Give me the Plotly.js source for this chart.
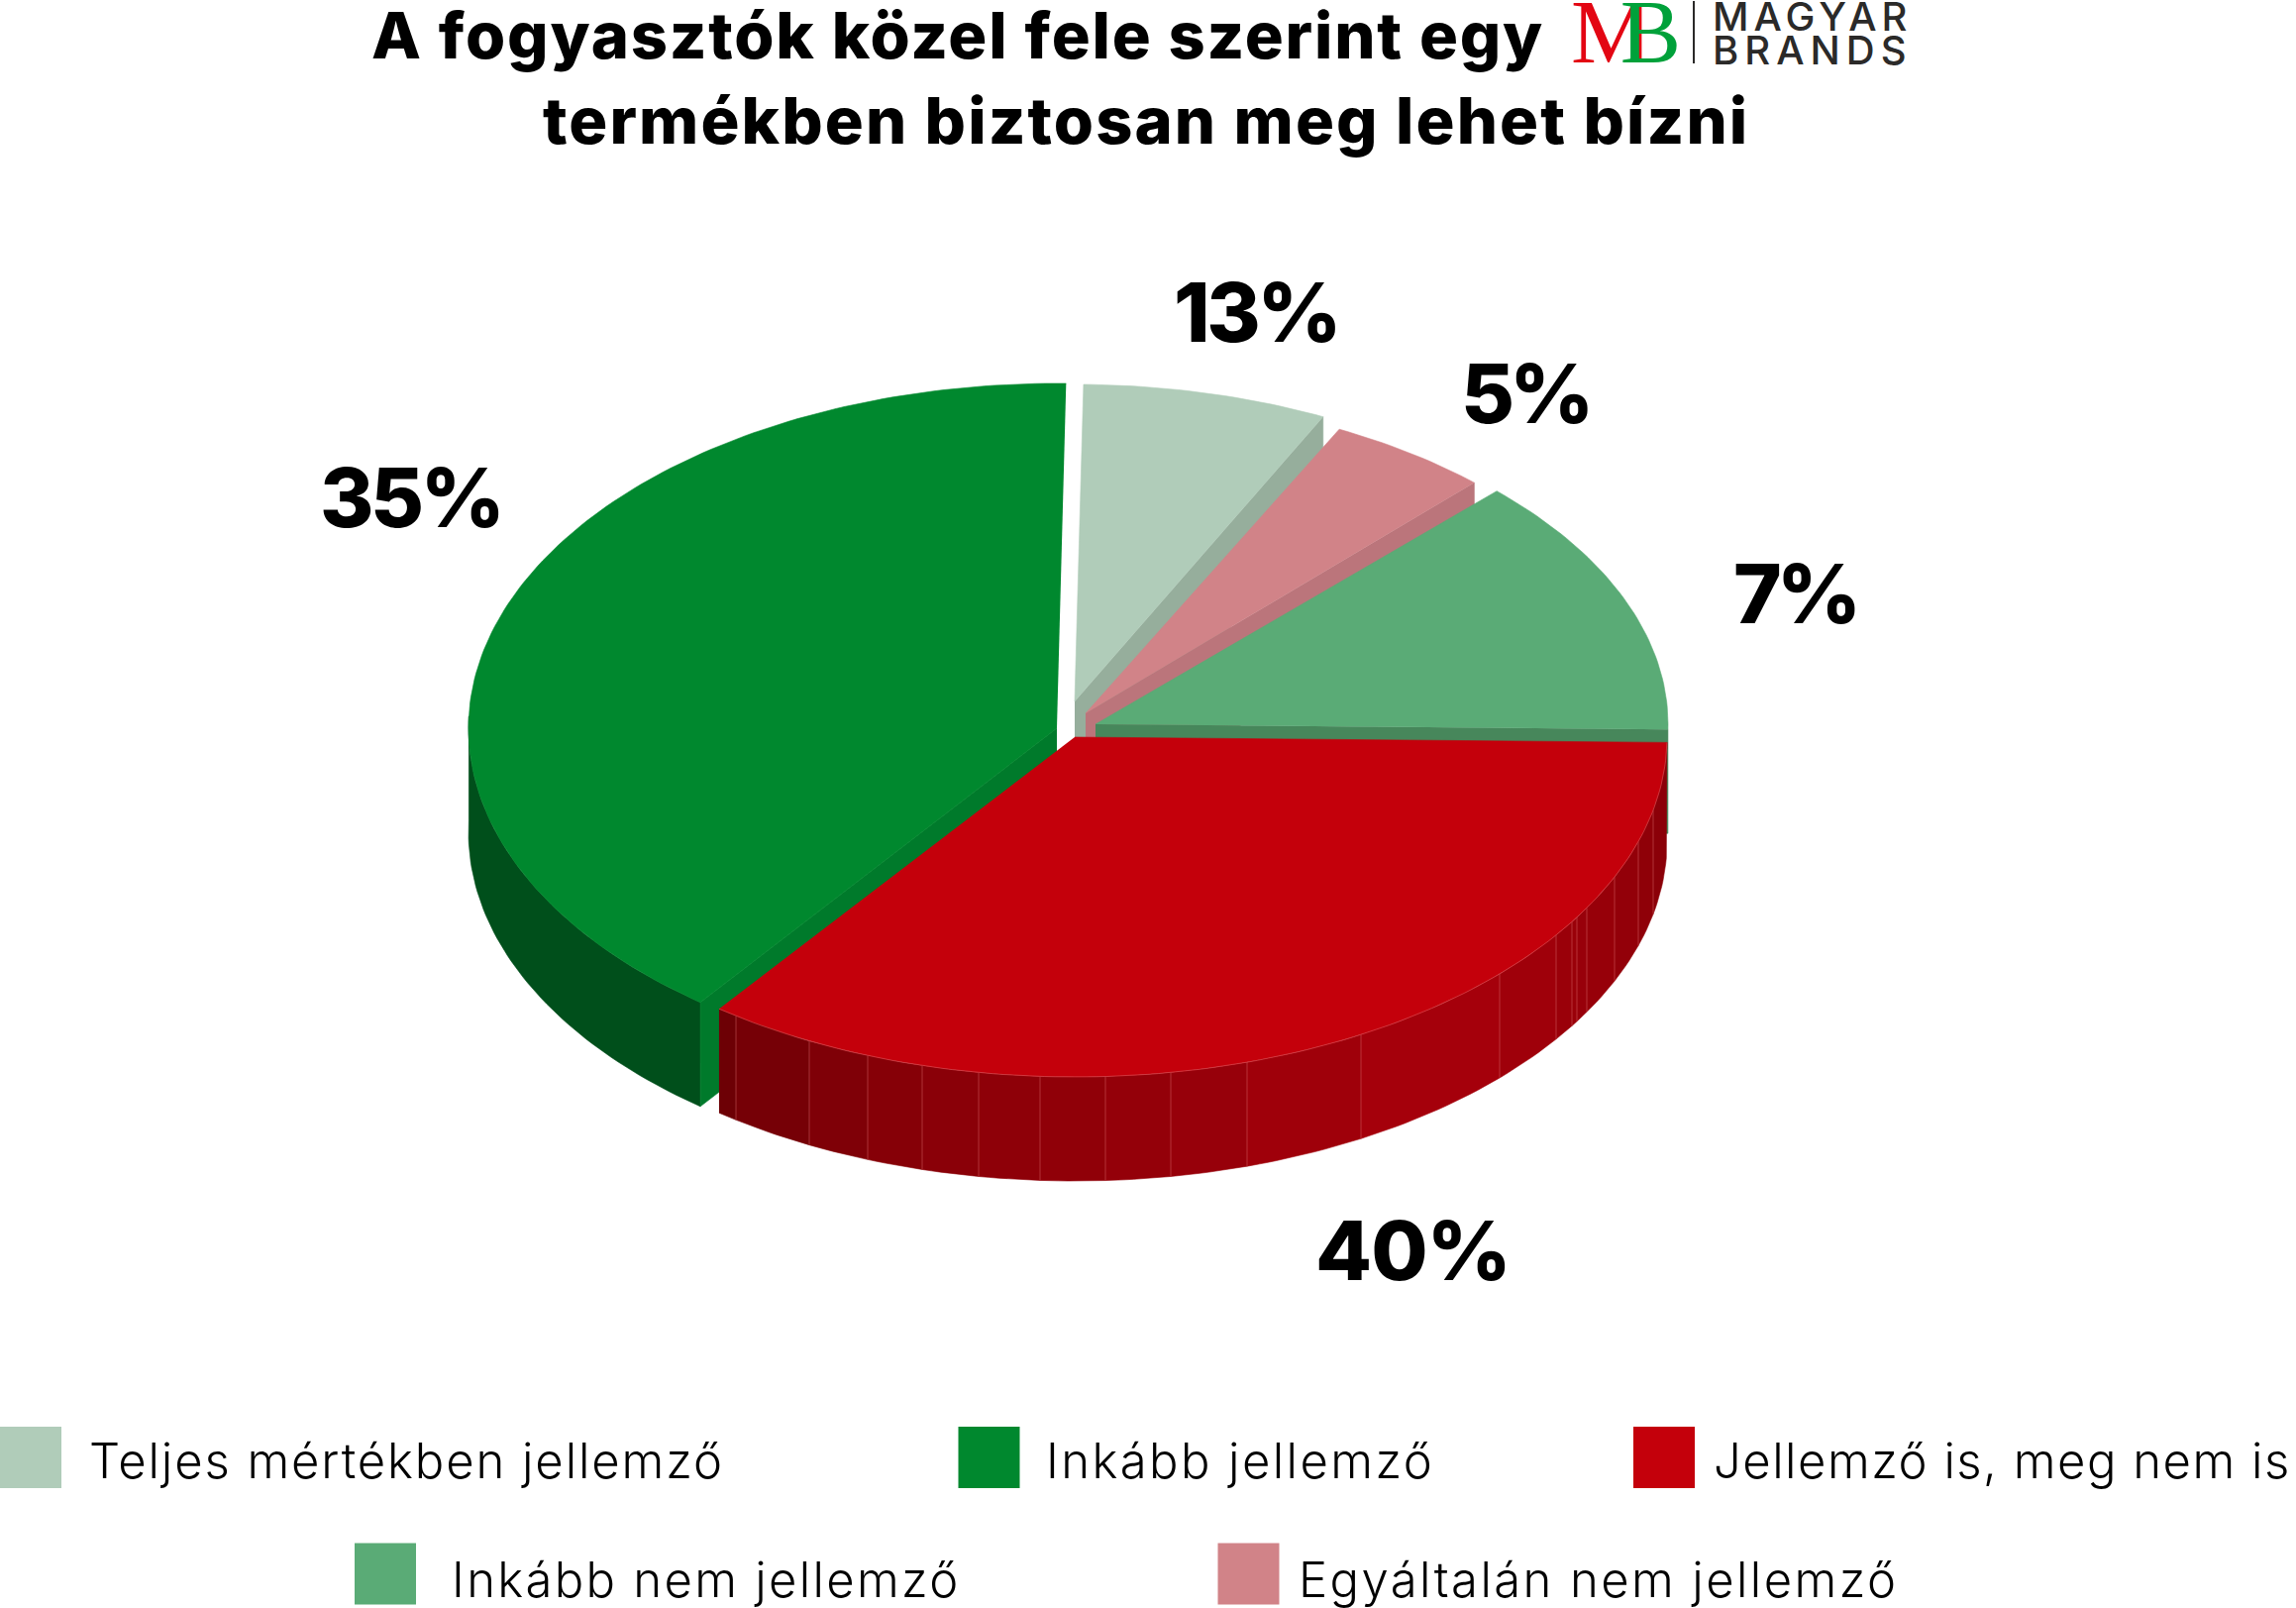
<!DOCTYPE html>
<html><head><meta charset="utf-8">
<script src="https://cdn.plot.ly/plotly-3.0.1.min.js"></script>
<style>html,body{margin:0;padding:0;background:#fff}</style></head>
<body><div id="chart" style="width:2318px;height:1623px"></div>
<script>
// ---- data, in legend order ----
const categories = ['Teljes mértékben jellemző','Inkább jellemző','Jellemző is, meg nem is','Inkább nem jellemző','Egyáltalán nem jellemző'];
const printedPercent = [13,35,40,7,5];     // numbers as printed beside the wedges
const wedgeShares = [7,40,35,13,5];        // angular size of the wedges as drawn
const pieOrder = [0,4,3,2,1];              // clockwise from the top
const titleLine1 = 'A fogyasztók közel fele szerint egy';
const titleLine2 = 'termékben biztosan meg lehet bízni';

// ---- styles ----
const topColors  = ['#b0ccb9','#00882e','#c4000b','#5aab76','#d18388'];
const cutColors  = ['#96ae9c','#007a2b','#7a0006','#47875b','#bb757b'];
// projected geometry of each wedge: apex, ellipse radii, and small angular trim of the two edges
const wedgeGeom = [
  {cx:1085,cy:708,rx:570,ry:320,trim:[0,0]},
  {cx:1067,cy:735,rx:594,ry:348,trim:[0.4,0]},
  {cx:1085,cy:744,rx:598,ry:343,trim:[0,0]},
  {cx:1106,cy:731,rx:578,ry:330,trim:[0.4,0]},
  {cx:1096,cy:720,rx:570,ry:321,trim:[0.6,0.6]}
];
const depth = 105, startAngle = 0.9;
const redFacetX = [725,743,817,876,931,988,1050,1116,1182,1259,1374,1514,1571,1587,1592,1602,1630,1654,1669,1683];
const redFacetCol = ['#6d0005','#760006','#7f0007','#860007','#8a0008','#8e0008','#900008','#940009','#97000a','#9f000a','#a5000b','#9f000a','#9a0009','#9a0009','#98000a','#970009','#930009','#8f0008','#8b0008'];
const swatchCenter = [[31,1471],[998.5,1471],[1680,1471],[389,1588.5],[1260.5,1588.5]];
const legendTextPos = [[88,1474],[1054,1474],[1728,1474],[454,1594],[1309,1594]];
const legendSpacing = [1.9,2.4,1.5,2.3,2.4];
const pctPos = [[1268,315],[415,502],[1426,1262],[1812,599],[1540,397]];
const pctSpacing = [-3.5,-3.5,-1,-5,-5];
const pctSize = 83;

const rad = d => d*Math.PI/180;
const pt = (g,t,dy=0) => [g.cx+g.rx*Math.sin(rad(t)), g.cy-g.ry*Math.cos(rad(t))+dy];
function arc(g,t1,t2,dy=0){
  const n=Math.max(2,Math.ceil(Math.abs(t2-t1))), out=[];
  for(let i=0;i<=n;i++) out.push(pt(g,t1+(t2-t1)*i/n,dy));
  return out;
}
function poly(points,color,name){
  return {type:'scatter',mode:'lines',x:points.map(p=>p[0]),y:points.map(p=>p[1]),fill:'toself',
    fillcolor:color,line:{color:color,width:0.6},hoverinfo:'skip',showlegend:false,name:name||''};
}
const spaced = (s,px) => '<span style="letter-spacing:'+px+'px">'+s+'</span>';
// angular extents
const extents = {}; let a = startAngle;
pieOrder.forEach(i=>{const tr=wedgeGeom[i].trim; extents[i]=[a+tr[0],a+wedgeShares[i]*3.6-tr[1]]; a+=wedgeShares[i]*3.6;});

const traces=[];
// back wedges: cut wall on their clockwise side, then the top
[0,4,3].forEach(i=>{
  const g=wedgeGeom[i],[t1,t2]=extents[i],e=pt(g,t2);
  traces.push(poly([[g.cx,g.cy],e,[e[0],e[1]+depth],[g.cx,g.cy+depth]],cutColors[i]));
  traces.push(poly([[g.cx,g.cy],...arc(g,t1,t2)],topColors[i],categories[i]));
});
// big green wedge: outer wall, cut wall, top
{
  const i=1,g=wedgeGeom[i],[t1,t2]=extents[i];
  traces.push(poly([...arc(g,t1,272),...arc(g,272,t1,depth)],'#004f1b'));
  const tip=pt(g,t1);
  traces.push(poly([[g.cx,g.cy],tip,[tip[0],tip[1]+depth],[g.cx,g.cy+depth]],cutColors[i]));
  traces.push(poly([[g.cx,g.cy],...arc(g,t1,t2)],topColors[i],categories[i]));
}
// red wedge: faceted wall, seams, top
{
  const i=2,g=wedgeGeom[i],[t1,t2]=extents[i];
  const tOf = x => 180-Math.asin(Math.max(-1,Math.min(1,(x-g.cx)/g.rx)))*180/Math.PI;
  const seamX=[],seamY=[];
  for(let k=0;k<redFacetCol.length;k++){
    const a1=Math.min(t2,tOf(redFacetX[k])), a2=k===redFacetCol.length-1?t1:Math.max(t1,tOf(redFacetX[k+1]));
    traces.push(poly([...arc(g,a1,a2),...arc(g,a2,a1,depth)],redFacetCol[k]));
    if(k>0){const p=pt(g,a1);seamX.push(p[0],p[0],null);seamY.push(p[1],p[1]+depth,null);}
  }
  traces.push({type:'scatter',mode:'lines',x:seamX,y:seamY,line:{color:'rgba(225,110,115,0.45)',width:1},hoverinfo:'skip',showlegend:false});
  traces.push(poly([[g.cx,g.cy],...arc(g,t1,t2)],topColors[i],categories[i]));
  const edge=arc(g,t1,t2);
  traces.push({type:'scatter',mode:'lines',x:edge.map(p=>p[0]),y:edge.map(p=>p[1]),line:{color:'rgba(225,110,115,0.45)',width:1},hoverinfo:'skip',showlegend:false});
}
// legend swatches
categories.forEach((c,i)=>traces.push({type:'scatter',mode:'markers',x:[swatchCenter[i][0]],y:[swatchCenter[i][1]],
  marker:{symbol:'square',size:62,color:topColors[i],line:{width:0}},hoverinfo:'skip',showlegend:false,name:c,cliponaxis:false}));

const F='Inter, "Open Sans", sans-serif';
const ann=[];
// second title line
ann.push({x:1157,y:121,xref:'x',yref:'y',text:spaced(titleLine2,2.1),showarrow:false,xanchor:'center',yanchor:'middle',font:{family:F,size:65,weight:800,color:'#000'}});
// percent labels
categories.forEach((c,i)=>ann.push({x:pctPos[i][0],y:pctPos[i][1],xref:'x',yref:'y',text:spaced(printedPercent[i]+'%',pctSpacing[i]),showarrow:false,xanchor:'center',yanchor:'middle',font:{family:F,size:pctSize,weight:800,color:'#000'}}));
// legend labels
categories.forEach((c,i)=>ann.push({x:legendTextPos[i][0],y:legendTextPos[i][1],xref:'x',yref:'y',text:spaced(c,legendSpacing[i]),showarrow:false,xanchor:'left',yanchor:'middle',font:{family:F,size:49,weight:300,color:'#000'}}));
// logo
ann.push({x:1584,y:32,xref:'x',yref:'y',text:'<span style="letter-spacing:-32px;fill:#e30613">M</span><span style="fill:#00a13a">B</span>',showarrow:false,xanchor:'left',yanchor:'middle',font:{family:'"Liberation Serif", serif',size:92,color:'#e30613'}});
ann.push({x:1727,y:16,xref:'x',yref:'y',text:spaced('MAGYAR',5),showarrow:false,xanchor:'left',yanchor:'middle',font:{family:F,size:40,weight:500,color:'#2b2a29'}});
ann.push({x:1727,y:50,xref:'x',yref:'y',text:spaced('BRANDS',6),showarrow:false,xanchor:'left',yanchor:'middle',font:{family:F,size:40,weight:500,color:'#2b2a29'}});

const layout={
  width:2318,height:1623,margin:{l:0,r:0,t:0,b:0},paper_bgcolor:'#fff',plot_bgcolor:'#fff',showlegend:false,hovermode:false,
  title:{text:spaced(titleLine1,1.8),x:967/2318,xanchor:'center',xref:'paper',y:1-36/1623,yanchor:'middle',yref:'container',font:{family:F,size:65,weight:800,color:'#000'}},
  xaxis:{range:[0,2318],visible:false,fixedrange:true},
  yaxis:{range:[1623,0],visible:false,fixedrange:true},
  annotations:ann,
  shapes:[{type:'line',xref:'x',yref:'y',x0:1710,x1:1710,y0:1,y1:64,line:{color:'#2b2a29',width:2}}]
};
Plotly.newPlot('chart',traces,layout,{staticPlot:true,displayModeBar:false});
</script></body></html>
